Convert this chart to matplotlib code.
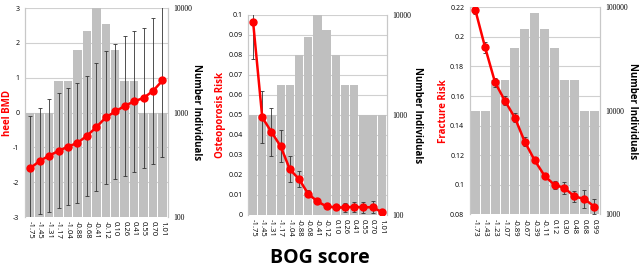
import numpy as np
import matplotlib
matplotlib.use("Agg")
import matplotlib.pyplot as plt
from matplotlib.transforms import blended_transform_factory

plt.rcParams['font.family'] = ['Open Sans', 'DejaVu Sans']

# BOG score bins
bins15 = ['-1.75', '-1.45', '-1.31', '-1.17', '-1.04', '-0.88', '-0.68', '-0.41',
          '-0.12', '0.10', '0.26', '0.41', '0.55', '0.70', '1.01']
bins13 = ['-1.73', '-1.43', '-1.23', '-1.07', '-0.89', '-0.67', '-0.39', '-0.11',
          '0.12', '0.30', '0.48', '0.68', '0.99']

# number of individuals per bin
n_bmd = [1000, 1000, 1000, 2000, 2000, 4000, 6000, 10000, 7100, 4000, 2000, 2000, 1000, 1000, 1000]
n_fx = [10000, 10000, 20000, 20000, 40000, 61000, 87000, 61000, 40000, 20000, 20000, 10000, 10000]

# heel BMD mean and error
bmd = [-1.60, -1.39, -1.24, -1.10, -0.98, -0.87, -0.67, -0.42, -0.14, 0.03, 0.19, 0.32, 0.42, 0.62, 0.92]
bmd_err = [1.50, 1.53, 1.62, 1.65, 1.67, 1.72, 1.72, 1.83, 1.90, 1.95, 2.00, 2.03, 2.00, 2.10, 2.20]

# osteoporosis risk and error
osteo = [0.0967, 0.0487, 0.0414, 0.0342, 0.0227, 0.0178, 0.0104, 0.0066, 0.0041,
         0.0036, 0.0036, 0.0040, 0.0036, 0.0038, 0.0012]
osteo_err = [0.019, 0.013, 0.012, 0.008, 0.0065, 0.004, 0.0018, 0.0010, 0.0010,
             0.0012, 0.0022, 0.0025, 0.0028, 0.0028, 0.0018]

# fracture risk and error
frac = [0.2184, 0.1928, 0.1692, 0.1567, 0.1453, 0.1290, 0.1165, 0.1060, 0.0999,
        0.0979, 0.0921, 0.0905, 0.0853]
frac_err = [0.003, 0.004, 0.003, 0.003, 0.003, 0.003, 0.002, 0.002, 0.003,
            0.004, 0.004, 0.006, 0.005]

fig = plt.figure(figsize=(6.4, 2.67), dpi=100)

panels = [
    dict(rect=[0.039, 0.187, 0.223, 0.783], cats=bins15, n=n_bmd, y=bmd, err=bmd_err,
         ylim=(-3, 3), yticks=np.arange(-3, 4, 1), nlim=(100, 10000),
         label='heel BMD', lpos=-0.125, rpos=1.20),
    dict(rect=[0.3875, 0.196, 0.217, 0.748], cats=bins15, n=n_bmd, y=osteo, err=osteo_err,
         ylim=(0, 0.1), yticks=np.arange(0, 0.101, 0.01), nlim=(100, 10000),
         label='Osteoporosis Risk', lpos=-0.20, rpos=1.22),
    dict(rect=[0.734, 0.197, 0.203, 0.776], cats=bins13, n=n_fx, y=frac, err=frac_err,
         ylim=(0.08, 0.22), yticks=np.arange(0.08, 0.221, 0.02), nlim=(1000, 100000),
         label='Fracture Risk', lpos=-0.205, rpos=1.25),
]

for p in panels:
    ax = fig.add_axes(p['rect'])
    ln = ax.twinx()
    x = np.arange(len(p['cats']))
    base = p['nlim'][0]

    # bars (log count) on the primary axes, shown on the right side
    ax.set_yscale('log')
    ax.bar(x, np.array(p['n']) - base, width=0.9, bottom=base, color='#c0c0c0', zorder=2)
    ax.set_ylim(p['nlim'])
    ax.set_xlim(-0.55, len(x) - 0.45)
    ax.yaxis.tick_right()
    ax.set_yticks([v for v in [100, 1000, 10000, 100000] if p['nlim'][0] <= v <= p['nlim'][1]])
    ax.yaxis.set_major_formatter(plt.FuncFormatter(lambda v, pos: '%d' % v))
    ax.yaxis.set_minor_locator(plt.NullLocator())
    ax.tick_params(axis='y', length=0, pad=4, labelsize=5.5)
    for t in ax.get_yticklabels():
        t.set_family('Liberation Serif')
    ax.set_xticks(x)
    ax.set_xticklabels(p['cats'], rotation=-90, fontsize=5.5)
    ax.tick_params(axis='x', length=0, pad=3)
    ax.set_ylabel('Number Individuals', fontsize=7, fontweight='bold', rotation=-90,
                  va='center', ha='center')
    ax.yaxis.set_label_coords(p['rpos'], 0.5)

    # horizontal grid of the risk axis, drawn behind the bars
    tr = blended_transform_factory(ax.transAxes, ln.transData)
    for t in p['yticks']:
        ax.plot([0, 1], [t, t], transform=tr, color='#d0d0d0', lw=0.8, zorder=1)

    # red line with error bars on the twin axes, shown on the left side
    ln.errorbar(x, p['y'], yerr=p['err'], color='#ff0000', lw=1.8, marker='o',
                ms=5, ecolor='#333333', elinewidth=0.6, capsize=1.5, capthick=0.6,
                zorder=3)
    ln.set_ylim(p['ylim'])
    ln.yaxis.tick_left()
    ln.set_yticks(p['yticks'])
    ln.set_yticklabels(['%g' % round(t, 3) for t in p['yticks']])
    ln.tick_params(axis='y', length=0, pad=4, labelsize=5)
    ln.set_ylabel(p['label'], color='#ff0000', fontsize=7, fontweight='bold',
                  va='center', ha='center')
    ln.yaxis.set_label_coords(p['lpos'], 0.5)

    for a in (ax, ln):
        a.spines['top'].set_visible(False)
        a.spines['bottom'].set_visible(False)
        a.spines['left'].set_color('#c8c8c8')
        a.spines['right'].set_color('#c8c8c8')

fig.text(0.5, 0.035, 'BOG score', ha='center', va='center', fontsize=14, fontweight='bold')

fig.savefig('out.png', dpi=100)
